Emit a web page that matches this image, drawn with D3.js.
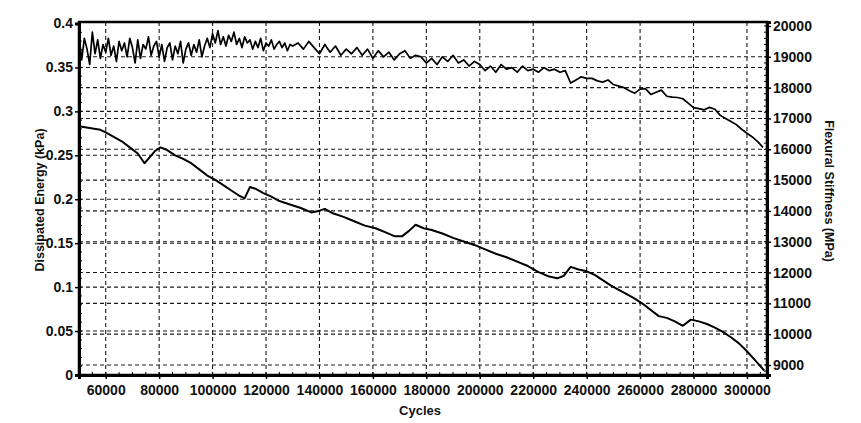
<!DOCTYPE html>
<html>
<head>
<meta charset="utf-8">
<script src="https://cdn.jsdelivr.net/npm/d3@7/dist/d3.min.js"></script>
<style>
  body { margin: 0; background: #fff; }
  text { font-family: Arial, "Liberation Sans", sans-serif; font-weight: bold; fill: #111; }
</style>
</head>
<body>
<svg id="chart" width="861" height="423"></svg>
<script>
// Dissipated energy (left axis) - lower curve
const energyCycles = [50000, 54000, 58000, 60000, 63000, 66000, 69000, 72000, 74500, 76500,
    78500, 80500, 83000, 86000, 89000, 92000, 95000, 98000, 101000, 104000,
    107000, 110000, 112000, 114000, 116000, 119000, 122000, 125000, 129000, 133000,
    137000, 140000, 142000, 145000, 149000, 153000, 157000, 161000, 165000, 168000,
    171000, 173500, 176000, 179000, 182000, 186000, 190000, 194000, 198000, 202000,
    206000, 210000, 214000, 218000, 222000, 226000, 229000, 231500, 234000, 237000,
    240000, 243000, 246000, 249000, 252000, 255000, 258000, 261000, 264000, 267000,
    270000, 273000, 276000, 279000, 282000, 285000, 288000, 291000, 294000, 297000,
    300000, 303000, 306500]
const energyValues = [0.283, 0.281, 0.279, 0.276, 0.271, 0.266, 0.259, 0.252, 0.241, 0.248,
    0.255, 0.259, 0.256, 0.250, 0.246, 0.241, 0.234, 0.227, 0.222, 0.216,
    0.210, 0.204, 0.201, 0.214, 0.212, 0.207, 0.203, 0.198, 0.194, 0.190,
    0.185, 0.187, 0.189, 0.184, 0.180, 0.175, 0.170, 0.167, 0.162, 0.158,
    0.158, 0.164, 0.171, 0.167, 0.165, 0.161, 0.156, 0.152, 0.148, 0.143,
    0.138, 0.134, 0.129, 0.124, 0.117, 0.112, 0.110, 0.113, 0.123, 0.120,
    0.118, 0.114, 0.108, 0.102, 0.097, 0.092, 0.087, 0.081, 0.074, 0.067,
    0.065, 0.061, 0.056, 0.063, 0.061, 0.058, 0.054, 0.049, 0.043, 0.036,
    0.027, 0.017, 0.005]

// Flexural stiffness (right axis) - upper curve, sampled every 1000 then 2000 cycles
const stiffEarlyStart = 50000
const stiffEarlyStep = 1000
const stiffEarly = [19700, 18900, 19600, 19250, 18750, 19800, 19100, 19550, 18950, 19400,
    19150, 19600, 19050, 19350, 18850, 19500, 19200, 19450, 19000, 19600,
    19300, 18800, 19550, 18950, 19400, 19250, 19650, 19050, 19350, 19500,
    19000, 19400, 18850, 19300, 19450, 18900, 19350, 19100, 19500, 18800,
    19250, 19450, 19050, 19400, 19150, 19550, 19000, 19350, 19600, 19300,
    19750, 19450, 19850, 19400, 19650, 19350, 19700, 19500, 19800, 19400,
    19600, 19300, 19650, 19450, 19550, 19250, 19500, 19300, 19600, 19200,
    19450, 19350, 19550, 19250, 19400, 19500, 19300, 19450, 19200, 19400,
    19350]
const stiffLateStart = 132000
const stiffLateStep = 2000
const stiffLate = [19450, 19250, 19500, 19300, 19100, 19400, 19150, 19350, 19050, 19250,
    19100, 19300, 19050, 19250, 18950, 19200, 19000, 19150, 18900, 19100,
    19200, 18950, 19050, 19000, 18800, 18950, 18750, 19000, 18850, 19050,
    18800, 18900, 18700, 18850, 18750, 18550, 18700, 18500, 18750, 18600,
    18650, 18500, 18700, 18550, 18600, 18500, 18650, 18550, 18600, 18500,
    18550, 18150, 18250, 18350, 18300, 18300, 18220, 18180, 18250, 18100,
    18050, 18000, 17900, 17820, 17950, 17970, 17780, 17850, 17920, 17720,
    17690, 17680, 17640, 17500, 17350, 17320, 17280, 17360, 17300, 17100,
    17000, 16900, 16800, 16650, 16520, 16400, 16250, 16060]

const cycleTicks = [60000, 80000, 100000, 120000, 140000, 160000, 180000, 200000, 220000, 240000, 260000, 280000, 300000]
const energyTicks = [0, 0.05, 0.1, 0.15, 0.2, 0.25, 0.3, 0.35, 0.4]
const energyTickLabels = ['0', '0.05', '0.1', '0.15', '0.2', '0.25', '0.3', '0.35', '0.4']
const stiffTicks = [9000, 10000, 11000, 12000, 13000, 14000, 15000, 16000, 17000, 18000, 19000, 20000]

const energyData = energyCycles.map((c, i) => ({ c, v: energyValues[i] }))
const stiffData = stiffEarly.map((v, i) => ({ c: stiffEarlyStart + i * stiffEarlyStep, v }))
    .concat(stiffLate.map((v, i) => ({ c: stiffLateStart + i * stiffLateStep, v })))

const plotLeft = 79, plotRight = 767, plotTop = 22, plotBottom = 375

const x = d3.scaleLinear().domain([50000, 307500]).range([plotLeft, plotRight])
const yLeft = d3.scaleLinear().domain([0, 0.4]).range([plotBottom, 23.5])
const yRight = d3.scaleLinear().domain([8675, 20130]).range([plotBottom, plotTop])

const chart = d3.select('#chart')

// Dashed grid: verticals at cycle ticks, horizontals at both axes' ticks
const grid = chart.append('g')
    .attr('stroke', '#1a1a1a')
    .attr('stroke-width', 1.1)
    .attr('stroke-dasharray', '4,3')

grid.selectAll()
    .data(cycleTicks)
    .enter()
    .append('line')
    .attr('x1', d => x(d)).attr('x2', d => x(d))
    .attr('y1', plotTop).attr('y2', plotBottom)

grid.selectAll()
    .data(energyTicks.filter(d => d > 0 && d < 0.4))
    .enter()
    .append('line')
    .attr('x1', plotLeft).attr('x2', plotRight)
    .attr('y1', d => yLeft(d)).attr('y2', d => yLeft(d))

grid.selectAll()
    .data(stiffTicks.filter(d => d < 20000))
    .enter()
    .append('line')
    .attr('x1', plotLeft).attr('x2', plotRight)
    .attr('y1', d => yRight(d)).attr('y2', d => yRight(d))

// Curves
const energyLine = d3.line().x(d => x(d.c)).y(d => yLeft(d.v))
const stiffLine = d3.line().x(d => x(d.c)).y(d => yRight(d.v))

chart.append('path')
    .datum(stiffData)
    .attr('d', stiffLine)
    .attr('fill', 'none')
    .attr('stroke', '#000')
    .attr('stroke-width', 1.7)
    .attr('stroke-linejoin', 'round')

chart.append('path')
    .datum(energyData)
    .attr('d', energyLine)
    .attr('fill', 'none')
    .attr('stroke', '#000')
    .attr('stroke-width', 2)
    .attr('stroke-linejoin', 'round')

// Frame
chart.append('rect')
    .attr('x', plotLeft).attr('y', plotTop)
    .attr('width', plotRight - plotLeft).attr('height', plotBottom - plotTop)
    .attr('fill', 'none')
    .attr('stroke', '#000')
    .attr('stroke-width', 2.5)

// Minor ticks (inside)
const minor = chart.append('g').attr('stroke', '#000').attr('stroke-width', 1)
minor.selectAll()
    .data(d3.range(55000, 307500, 5000))
    .enter()
    .append('line')
    .attr('x1', d => x(d)).attr('x2', d => x(d))
    .attr('y1', plotBottom).attr('y2', plotBottom - 3)
minor.selectAll()
    .data(d3.range(8800, 20100, 200))
    .enter()
    .append('line')
    .attr('x1', plotRight).attr('x2', plotRight - 3)
    .attr('y1', d => yRight(d)).attr('y2', d => yRight(d))
minor.selectAll()
    .data(d3.range(0.01, 0.4, 0.01))
    .enter()
    .append('line')
    .attr('x1', plotLeft).attr('x2', plotLeft + 3)
    .attr('y1', d => yLeft(d)).attr('y2', d => yLeft(d))

// Axes
const xAxis = d3.axisBottom(x).tickValues(cycleTicks).tickFormat(d3.format('d')).tickSize(4).tickPadding(6)
const leftAxis = d3.axisLeft(yLeft).tickValues(energyTicks).tickFormat((d, i) => energyTickLabels[i]).tickSize(4).tickPadding(2)
const rightAxis = d3.axisRight(yRight).tickValues(stiffTicks).tickFormat(d3.format('d')).tickSize(4).tickPadding(2)

const styleAxis = g => {
    g.select('.domain').attr('stroke-width', 3)
    g.selectAll('.tick line').attr('stroke-width', 1.5)
    g.selectAll('.tick text').attr('font-size', 14).attr('font-weight', 'bold')
        .attr('font-family', 'Arial, "Liberation Sans", sans-serif').attr('fill', '#111')
}

chart.append('g').attr('transform', `translate(0, ${plotBottom})`).call(xAxis).call(styleAxis)
chart.append('g').attr('transform', `translate(${plotLeft}, 0)`).call(leftAxis).call(styleAxis)
chart.append('g').attr('transform', `translate(${plotRight}, 0)`).call(rightAxis).call(styleAxis)

// Axis titles
chart.append('text')
    .text('Cycles')
    .attr('x', 420).attr('y', 415)
    .attr('text-anchor', 'middle')
    .attr('font-size', 13)

chart.append('text')
    .text('Dissipated Energy (kPa)')
    .attr('transform', 'translate(44, 200) rotate(-90)')
    .attr('text-anchor', 'middle')
    .attr('font-size', 12.5)

chart.append('text')
    .text('Flexural Stiffness (MPa)')
    .attr('transform', 'translate(825, 191) rotate(90)')
    .attr('text-anchor', 'middle')
    .attr('font-size', 12.5)
</script>
</body>
</html>
